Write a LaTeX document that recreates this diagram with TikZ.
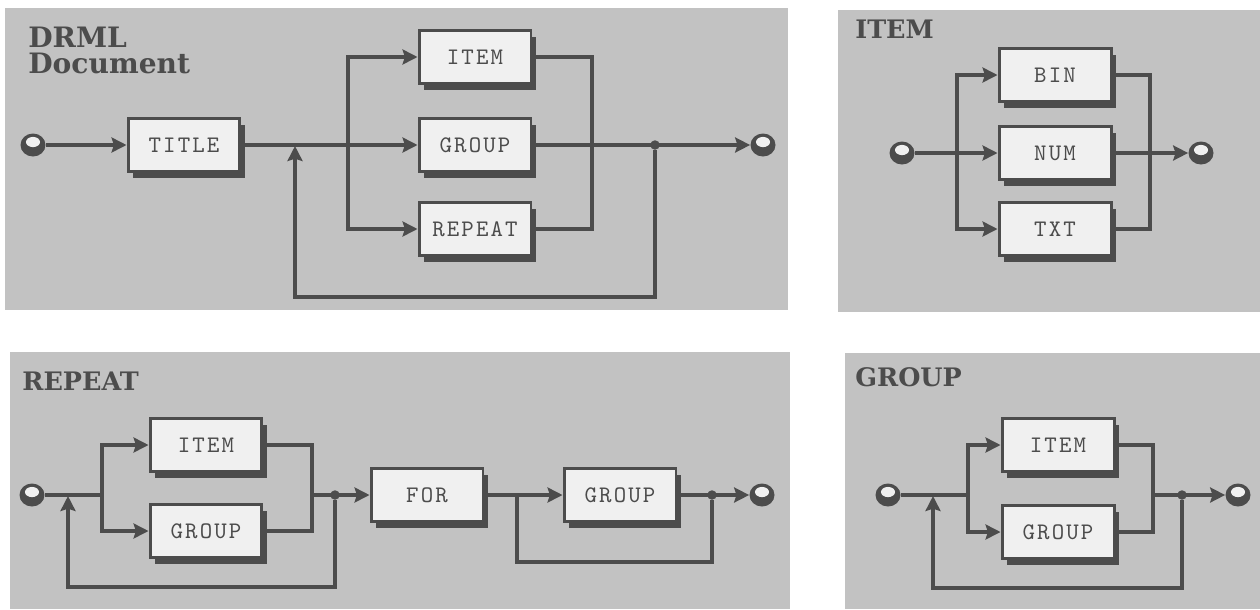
\documentclass[tikz,border=0pt]{standalone}
\usepackage{fontspec}
\usepackage{tikz}
\usetikzlibrary{arrows.meta, positioning, shadows, shapes.geometric}
\newfontfamily\headfont{DejaVu Serif}
\newfontfamily\boxfont{lmmono10-regular.otf}[LetterSpace=9]
\definecolor{ink}{HTML}{4C4C4C}
\definecolor{panelgray}{HTML}{C2C2C2}
\definecolor{boxwhite}{HTML}{F0F0F0}

\begin{document}
\begin{tikzpicture}[
  x=0.02cm, y=-0.02cm,
  panel/.style={fill=panelgray},
  heading/.style={anchor=north west, inner sep=0pt, align=left, text=ink, font=\headfont\bfseries\fontsize{14.5}{15}\selectfont},
  rule/.style={rectangle, draw=ink, line width=1.7pt, fill=boxwhite, minimum width=2.24cm, minimum height=1.06cm, inner sep=0pt,
    drop shadow={shadow xshift=2.6pt, shadow yshift=-3.8pt, opacity=1, fill=ink},
    text=ink, font=\boxfont\fontsize{13.5}{15}\selectfont},
  term/.style={ellipse, fill=ink, minimum width=0.5cm, minimum height=0.46cm, inner sep=0pt,
    path picture={\fill[boxwhite] ([yshift=1.7pt]path picture bounding box.center) ellipse [x radius=4pt, y radius=2.9pt];}},
  junction/.style={circle, fill=ink, minimum size=0.19cm, inner sep=0pt},
  line/.style={draw=ink, line width=2pt},
  arrow/.style={line, -{Stealth[length=8.5pt, width=8.5pt, inset=1.3pt]}}
]
\useasboundingbox (0,0) rectangle (1260,609);

% background panels
\fill[panel] (5,8) rectangle (788,310);
\fill[panel] (838,10) rectangle (1260,312);
\fill[panel] (10,352) rectangle (790,609);
\fill[panel] (845,353) rectangle (1260,609);

% DRML Document
\node[heading, font=\headfont\bfseries\fontsize{16}{14.5}\selectfont] (doc-head) at (28,27) {DRML\\Document};
\node[term] (doc-in) at (33,145) {};
\node[rule] (doc-title) at (184,145) {TITLE};
\node[rule] (doc-item) at (475,57) {ITEM};
\node[rule] (doc-group) at (475,145) {GROUP};
\node[rule] (doc-repeat) at (475,229) {REPEAT};
\node[junction] (doc-dot) at (655,145) {};
\node[term] (doc-out) at (763,145) {};
\coordinate (doc-loop) at (295,146);
\coordinate (doc-back) at (295,297);
\coordinate (doc-split) at (348,145);
\coordinate (doc-merge) at (592,145);

\draw[arrow] (doc-in) -- (doc-title);
\draw[arrow] (doc-title) -- (doc-group);
\draw[arrow] (doc-split) |- (doc-item);
\draw[arrow] (doc-split) |- (doc-repeat);
\draw[line] (doc-item) -| (doc-merge) |- (doc-repeat);
\draw[arrow] (doc-group) -- (doc-out);
\draw[arrow] (doc-dot) |- (doc-back) -- (doc-loop);

% ITEM
\node[heading] (item-head) at (855,20) {ITEM};
\node[term] (item-in) at (902,153) {};
\node[rule] (item-bin) at (1055,75) {BIN};
\node[rule] (item-num) at (1055,153) {NUM};
\node[rule] (item-txt) at (1055,229) {TXT};
\node[term] (item-out) at (1201,153) {};
\coordinate (item-split) at (957,153);
\coordinate (item-merge) at (1150,153);

\draw[line] (item-in) -- (item-split);
\draw[arrow] (item-split) -- (item-num);
\draw[arrow] (item-split) |- (item-bin);
\draw[arrow] (item-split) |- (item-txt);
\draw[line] (item-bin) -| (item-merge) |- (item-txt);
\draw[arrow] (item-num) -- (item-out);

% REPEAT
\node[heading] (rep-head) at (22,372) {REPEAT};
\node[term] (rep-in) at (32,495) {};
\node[rule] (rep-item) at (206,445) {ITEM};
\node[rule] (rep-group) at (206,531) {GROUP};
\node[rule] (rep-for) at (427,495) {FOR};
\node[rule] (rep-group2) at (620,495) {GROUP};
\node[junction] (rep-dot) at (335,495) {};
\node[junction] (rep-dot2) at (712,495) {};
\node[term] (rep-out) at (762,495) {};
\coordinate (rep-loop) at (68,496);
\coordinate (rep-back) at (68,587);
\coordinate (rep-split) at (102,495);
\coordinate (rep-merge) at (312,495);
\coordinate (rep-skip) at (517,495);
\coordinate (rep-bypass) at (712,562);

\draw[line] (rep-in) -- (rep-split);
\draw[arrow] (rep-split) |- (rep-item);
\draw[arrow] (rep-split) |- (rep-group);
\draw[line] (rep-item) -| (rep-merge) |- (rep-group);
\draw[arrow] (rep-merge) -- (rep-for);
\draw[arrow] (rep-dot) |- (rep-back) -- (rep-loop);
\draw[arrow] (rep-for) -- (rep-group2);
\draw[line] (rep-skip) |- (rep-bypass) -- (rep-dot2);
\draw[arrow] (rep-group2) -- (rep-out);

% GROUP
\node[heading] (grp-head) at (855,367) {GROUP};
\node[term] (grp-in) at (888,495) {};
\node[rule] (grp-item) at (1058,445) {ITEM};
\node[rule] (grp-group) at (1058,532) {GROUP};
\node[junction] (grp-dot) at (1182,495) {};
\node[term] (grp-out) at (1238,495) {};
\coordinate (grp-loop) at (933,496);
\coordinate (grp-back) at (933,588);
\coordinate (grp-split) at (968,495);
\coordinate (grp-merge) at (1153,495);

\draw[line] (grp-in) -- (grp-split);
\draw[arrow] (grp-split) |- (grp-item);
\draw[arrow] (grp-split) |- (grp-group);
\draw[line] (grp-item) -| (grp-merge) |- (grp-group);
\draw[arrow] (grp-merge) -- (grp-out);
\draw[arrow] (grp-dot) |- (grp-back) -- (grp-loop);

\end{tikzpicture}
\end{document}
